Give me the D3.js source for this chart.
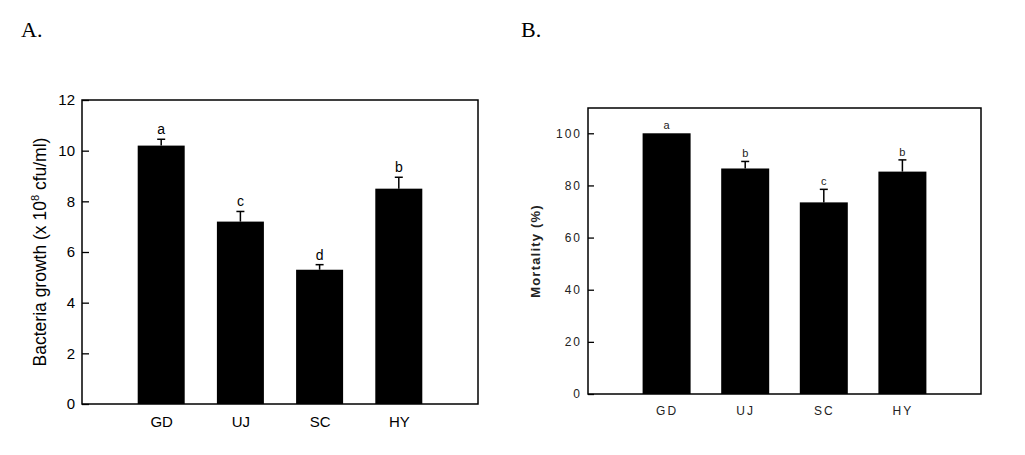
<!DOCTYPE html>
<html>
<head>
<meta charset="utf-8">
<script src="https://cdn.jsdelivr.net/npm/d3@7"></script>
<style>
  body { margin: 0; background: #fff; }
</style>
</head>
<body>
<div id="chart"></div>
<script>
const WIDTH = 1025;
const HEIGHT = 455;

// data
const categories = ["GD", "UJ", "SC", "HY"];
const growthMean = [10.2, 7.2, 5.3, 8.5];
const growthErr = [0.25, 0.4, 0.2, 0.45];
const growthLetters = ["a", "c", "d", "b"];
const growthTicks = [0, 2, 4, 6, 8, 10, 12];

const mortalityMean = [100, 86.5, 73.5, 85.3];
const mortalityErr = [0, 2.7, 5, 4.5];
const mortalityLetters = ["a", "b", "c", "b"];
const mortalityTicks = [0, 20, 40, 60, 80, 100];

const svg = d3.select("#chart").append("svg")
  .attr("width", WIDTH)
  .attr("height", HEIGHT)
  .style("background-color", "#fff");

// panel letters
svg.append("text")
  .attr("x", 21).attr("y", 37)
  .attr("font-family", "'Liberation Serif', 'Times New Roman', serif")
  .attr("font-size", 22)
  .text("A.");
svg.append("text")
  .attr("x", 521).attr("y", 37)
  .attr("font-family", "'Liberation Serif', 'Times New Roman', serif")
  .attr("font-size", 22)
  .text("B.");

function panel(opt) {
  const w = opt.right - opt.left;
  const h = opt.bottom - opt.top;

  const g = svg.append("g")
    .attr("transform", `translate(${opt.left}, ${opt.top})`);

  const x = d3.scalePoint()
    .domain(categories)
    .range([0, w])
    .padding(1);

  const y = d3.scaleLinear()
    .domain([0, opt.yMax])
    .range([h, 0]);

  const rows = categories.map((c, i) => ({
    cat: c, mean: opt.mean[i], err: opt.err[i], letter: opt.letters[i]
  }));

  // bars
  g.selectAll("rect.bar")
    .data(rows)
    .join("rect")
      .attr("class", "bar")
      .attr("x", d => x(d.cat) - opt.barW / 2)
      .attr("y", d => y(d.mean))
      .attr("width", opt.barW)
      .attr("height", d => h - y(d.mean))
      .attr("fill", "#000");

  // error bars (upper half only)
  const eb = g.selectAll("g.err")
    .data(rows.filter(d => d.err > 0))
    .join("g")
      .attr("class", "err");
  eb.append("line")
    .attr("x1", d => x(d.cat)).attr("x2", d => x(d.cat))
    .attr("y1", d => y(d.mean)).attr("y2", d => y(d.mean + d.err))
    .attr("stroke", "#000").attr("stroke-width", 1.5);
  eb.append("line")
    .attr("x1", d => x(d.cat) - opt.cap).attr("x2", d => x(d.cat) + opt.cap)
    .attr("y1", d => y(d.mean + d.err)).attr("y2", d => y(d.mean + d.err))
    .attr("stroke", "#000").attr("stroke-width", 1.5);

  // significance letters
  g.selectAll("text.sig")
    .data(rows)
    .join("text")
      .attr("class", "sig")
      .attr("x", d => x(d.cat))
      .attr("y", d => y(d.mean + d.err) - opt.letterGap)
      .attr("text-anchor", "middle")
      .attr("font-family", "Arial, Helvetica, sans-serif")
      .attr("font-size", opt.letterSize)
      .attr("fill", opt.textColor)
      .text(d => d.letter);

  // y axis, ticks pointing inward
  const yAxis = g.append("g")
    .call(d3.axisLeft(y)
      .tickValues(opt.ticks)
      .tickSizeInner(-opt.tickLen)
      .tickSizeOuter(0)
      .tickPadding(opt.tickPad));
  yAxis.select(".domain").remove();
  yAxis.selectAll("line").attr("stroke", "#000").attr("stroke-width", 1.3);
  yAxis.selectAll("text")
    .attr("font-family", "Arial, Helvetica, sans-serif")
    .attr("font-size", opt.tickSize)
    .attr("letter-spacing", opt.spacing)
    .attr("fill", opt.textColor);

  // x axis labels only
  const xAxis = g.append("g")
    .attr("transform", `translate(0, ${h})`)
    .call(d3.axisBottom(x).tickSize(0).tickPadding(opt.xPad));
  xAxis.select(".domain").remove();
  xAxis.selectAll("text")
    .attr("font-family", "Arial, Helvetica, sans-serif")
    .attr("font-size", opt.xSize)
    .attr("letter-spacing", opt.spacing)
    .attr("fill", opt.textColor);

  // frame
  g.append("rect")
    .attr("width", w).attr("height", h)
    .attr("fill", "none")
    .attr("stroke", "#000")
    .attr("stroke-width", 1.5);

  // y title
  const title = g.append("text")
    .attr("transform", `translate(${opt.titleX}, ${h / 2}) rotate(-90)`)
    .attr("text-anchor", "middle")
    .attr("font-family", "Arial, Helvetica, sans-serif")
    .attr("font-size", opt.titleSize)
    .attr("font-weight", opt.titleWeight)
    .attr("fill", opt.textColor);
  opt.title(title);
}

panel({
  left: 82, top: 100, right: 478, bottom: 404,
  yMax: 12, ticks: growthTicks,
  mean: growthMean, err: growthErr, letters: growthLetters,
  barW: 47, cap: 4, letterGap: 5, letterSize: 14,
  tickLen: 7, tickPad: 7, tickSize: 15, xPad: 12, xSize: 15, spacing: 0,
  textColor: "#000", titleX: -36, titleSize: 17.5, titleWeight: "normal",
  title: t => {
    t.append("tspan").text("Bacteria growth (x 10");
    t.append("tspan").attr("font-size", 11).attr("dy", -7).text("8");
    t.append("tspan").attr("dy", 7).text(" cfu/ml)");
  }
});

panel({
  left: 588, top: 108, right: 981, bottom: 394,
  yMax: 109.7, ticks: mortalityTicks,
  mean: mortalityMean, err: mortalityErr, letters: mortalityLetters,
  barW: 48, cap: 4, letterGap: 4, letterSize: 11,
  tickLen: 6, tickPad: 6, tickSize: 12, xPad: 12, xSize: 12, spacing: 2,
  textColor: "#222", titleX: -48, titleSize: 13, titleWeight: "bold",
  title: t => {
    t.attr("letter-spacing", 1.2).text("Mortality (%)");
  }
});
</script>
</body>
</html>
